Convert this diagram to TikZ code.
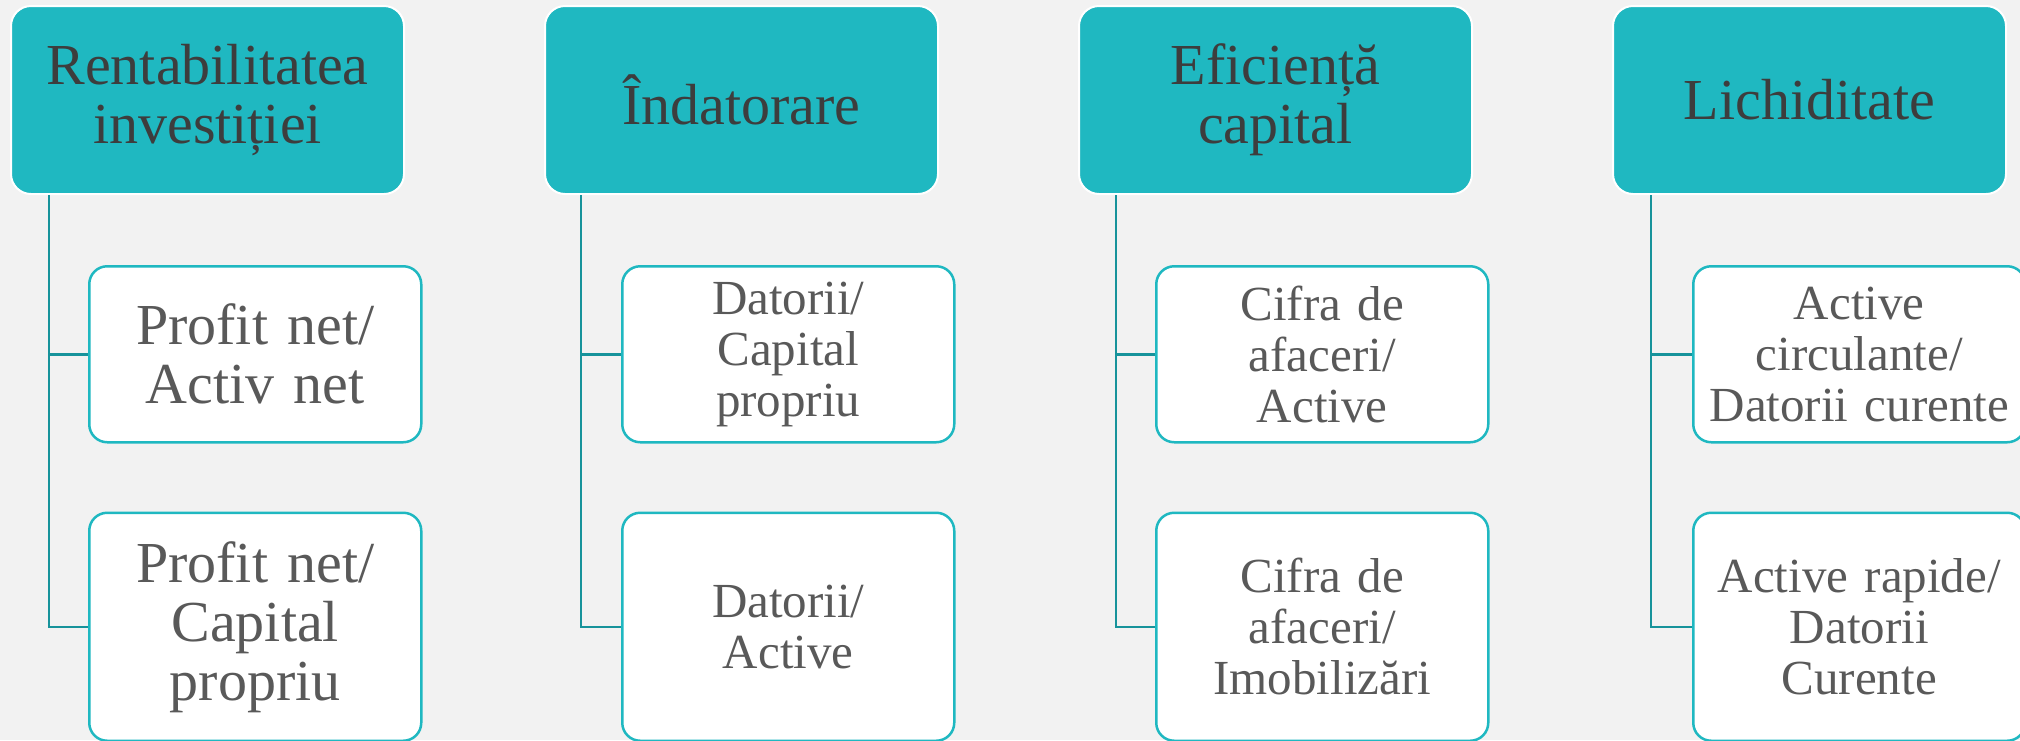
\documentclass[tikz,border=0pt]{standalone}
\usepackage{fontspec}
\setmainfont{Liberation Serif}
\usetikzlibrary{positioning}
\definecolor{tealfill}{HTML}{1FB8C1}
\definecolor{tealline}{HTML}{17939B}
\definecolor{bgcol}{HTML}{F2F2F2}
\definecolor{headtext}{HTML}{3D3D3D}
\definecolor{itemtext}{HTML}{595959}
\begin{document}
\begin{tikzpicture}[x=1pt,y=1pt,
	head/.style={shape=rectangle,rounded corners=20pt,draw=white,line width=2pt,fill=tealfill,text=headtext,minimum width=393pt,minimum height=188pt,text width=380pt,inner sep=0pt,align=center,font=\fontsize{58}{59}\selectfont},
	item/.style={shape=rectangle,rounded corners=18pt,draw=tealfill,line width=2.5pt,fill=white,text=itemtext,minimum width=332pt,minimum height=176pt,text width=322pt,inner sep=0pt,align=center,font=\fontsize{49}{51}\selectfont},
	big/.style={font=\fontsize{58}{59}\selectfont},
	tall/.style={minimum height=228pt},
	link/.style={draw=tealline,line width=2.5pt}]
	\useasboundingbox (0,0) rectangle (2020,-740);
	\fill[bgcol] (0,0) rectangle (2020,-740);

	\node[head,anchor=north west] (h1) at (10,-5) {Rentabilitatea\\investiției};
	\node[head] (h2) [right=139pt of h1] {Îndatorare};
	\node[head] (h3) [right=139pt of h2] {Eficiență\\capital};
	\node[head] (h4) [right=139pt of h3] {Lichiditate};

	\node[item,big] (c11) [below right=70pt and 78pt of h1.south west] {Profit net/\\Activ net};
	\node[item,big,tall] (c12) [below=68pt of c11] {Profit net/\\Capital\\propriu};
	\node[item] (c21) [below right=70pt and 77pt of h2.south west] {Datorii/\\Capital\\propriu};
	\node[item,tall] (c22) [below=68pt of c21] {Datorii/\\Active};
	\node[item] (c31) [below right=70pt and 77pt of h3.south west] {Cifra de\\afaceri/\\Active};
	\node[item,tall] (c32) [below=68pt of c31] {Cifra de\\afaceri/\\Imobilizări};
	\node[item] (c41) [below right=70pt and 80pt of h4.south west] {Active\\circulante/\\Datorii curente};
	\node[item,tall] (c42) [below=68pt of c41] {Active rapide/\\Datorii\\Curente};

	\draw[link] ([xshift=39pt]h1.south west) |- (c11.west);
	\draw[link] ([xshift=39pt]h1.south west) |- (c12.west);
	\draw[link] ([xshift=37pt]h2.south west) |- (c21.west);
	\draw[link] ([xshift=37pt]h2.south west) |- (c22.west);
	\draw[link] ([xshift=38pt]h3.south west) |- (c31.west);
	\draw[link] ([xshift=38pt]h3.south west) |- (c32.west);
	\draw[link] ([xshift=39pt]h4.south west) |- (c41.west);
	\draw[link] ([xshift=39pt]h4.south west) |- (c42.west);
\end{tikzpicture}
\end{document}
